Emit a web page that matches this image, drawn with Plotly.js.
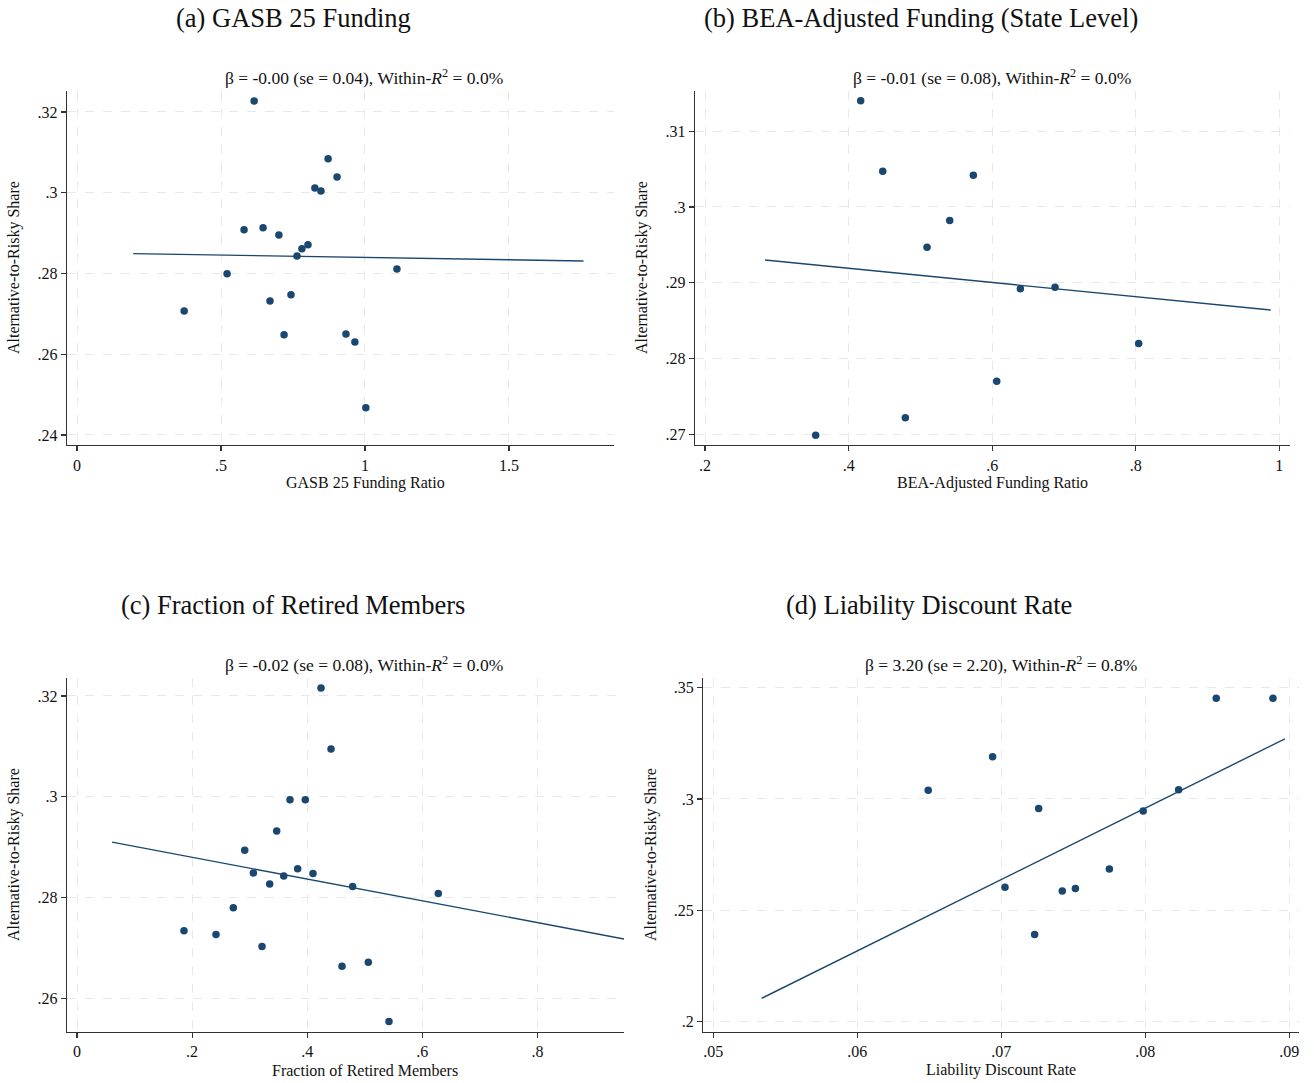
<!DOCTYPE html>
<html>
<head>
<meta charset="utf-8">
<script src="https://cdn.plot.ly/plotly-3.0.1.min.js"></script>
<style>
html,body{margin:0;padding:0;background:#fff;}
#chart{width:1314px;height:1083px;}
</style>
</head>
<body>
<div id="chart"></div>
<script>
// ---------- Data ----------
// Panel (a): GASB 25 Funding Ratio
const aX = [0.372,0.521,0.580,0.615,0.646,0.670,0.701,0.719,0.743,0.764,0.781,0.802,0.826,0.847,0.872,0.903,0.934,0.965,1.003,1.111];
const aY = [0.2707,0.2799,0.2908,0.3227,0.2913,0.2732,0.2895,0.2648,0.2747,0.2843,0.2861,0.2871,0.3012,0.3004,0.3084,0.3039,0.2650,0.2630,0.2467,0.2811];
const aFitX = [0.195,1.759];
const aFitY = [0.2849,0.2831];

// Panel (b): BEA-Adjusted Funding Ratio
const bX = [0.3541,0.4168,0.4475,0.4790,0.5092,0.5408,0.5737,0.6063,0.6392,0.6875,0.8040];
const bY = [0.2699,0.3140,0.3047,0.2722,0.2947,0.2982,0.3042,0.2770,0.2892,0.2894,0.2820];
const bFitX = [0.2836,0.9879];
const bFitY = [0.2930,0.2864];

// Panel (c): Fraction of Retired Members
const cX = [0.1859,0.2415,0.2716,0.2914,0.3064,0.3215,0.3348,0.3470,0.3592,0.3701,0.3834,0.3967,0.4101,0.4240,0.4414,0.4605,0.4790,0.5062,0.5421,0.6278];
const cY = [0.2734,0.2727,0.2780,0.2894,0.2849,0.2703,0.2827,0.2932,0.2843,0.2994,0.2857,0.2994,0.2848,0.3216,0.3095,0.2664,0.2822,0.2672,0.2554,0.2808];
const cFitX = [0.0608,0.9505];
const cFitY = [0.2910,0.2718];

// Panel (d): Liability Discount Rate
const dX = [0.06493,0.06940,0.07026,0.07232,0.07260,0.07424,0.07515,0.07751,0.07986,0.08232,0.08493,0.08887];
const dY = [0.3039,0.3190,0.2604,0.2391,0.2957,0.2587,0.2598,0.2686,0.2946,0.3041,0.3452,0.3452];
const dFitX = [0.05336,0.0897];
const dFitY = [0.2105,0.3270];

// Tick values / labels
const aXTicks = [0,0.5,1,1.5];           const aXLabels = ["0",".5","1","1.5"];
const aYTicks = [0.24,0.26,0.28,0.30,0.32]; const aYLabels = [".24",".26",".28",".3",".32"];
const bXTicks = [0.2,0.4,0.6,0.8,1.0];   const bXLabels = [".2",".4",".6",".8","1"];
const bYTicks = [0.27,0.28,0.29,0.30,0.31]; const bYLabels = [".27",".28",".29",".3",".31"];
const cXTicks = [0,0.2,0.4,0.6,0.8];     const cXLabels = ["0",".2",".4",".6",".8"];
const cYTicks = [0.26,0.28,0.30,0.32];   const cYLabels = [".26",".28",".3",".32"];
const dXTicks = [0.05,0.06,0.07,0.08,0.09]; const dXLabels = [".05",".06",".07",".08",".09"];
const dYTicks = [0.20,0.25,0.30,0.35];   const dYLabels = [".2",".25",".3",".35"];

const panelTitles = ["(a) GASB 25 Funding","(b) BEA-Adjusted Funding (State Level)","(c) Fraction of Retired Members","(d) Liability Discount Rate"];
const statTexts = [
  "β = -0.00 (se = 0.04), Within-<i>R</i><sup>2</sup> = 0.0%",
  "β = -0.01 (se = 0.08), Within-<i>R</i><sup>2</sup> = 0.0%",
  "β = -0.02 (se = 0.08), Within-<i>R</i><sup>2</sup> = 0.0%",
  "β = 3.20 (se = 2.20), Within-<i>R</i><sup>2</sup> = 0.8%"
];
const xTitles = ["GASB 25 Funding Ratio","BEA-Adjusted Funding Ratio","Fraction of Retired Members","Liability Discount Rate"];
const yTitle = "Alternative-to-Risky Share";

// ---------- Layout helpers ----------
const W = 1314, H = 1083;
const px = v => v / W;
const py = v => 1 - v / H;
const navy = '#1a476f';
const FONT = 'Liberation Serif, Times New Roman, serif';

function scatter(x, y, n) {
  const s = n === 1 ? '' : String(n);
  return {x:x, y:y, type:'scatter', mode:'markers', xaxis:'x'+s, yaxis:'y'+s,
    marker:{color:navy, size:7.5, line:{width:0}}, hoverinfo:'skip', showlegend:false};
}
function fit(x, y, n) {
  const s = n === 1 ? '' : String(n);
  return {x:x, y:y, type:'scatter', mode:'lines', xaxis:'x'+s, yaxis:'y'+s,
    line:{color:navy, width:1.4}, hoverinfo:'skip', showlegend:false};
}
function axis(domain, range, tickvals, ticktext, anchor) {
  return {domain:domain, range:range, tickvals:tickvals, ticktext:ticktext, anchor:anchor,
    showline:true, linecolor:'#333', linewidth:1.3, ticks:'outside', ticklen:5, tickcolor:'#333',
    tickwidth:1.2, showgrid:true, gridcolor:'#e8e8e8', gridwidth:1, griddash:'dash',
    zeroline:false, tickfont:{family:FONT, size:16, color:'#111'}, mirror:false, fixedrange:true};
}

const data = [
  fit(aFitX, aFitY, 1), scatter(aX, aY, 1),
  fit(bFitX, bFitY, 2), scatter(bX, bY, 2),
  fit(cFitX, cFitY, 3), scatter(cX, cY, 3),
  fit(dFitX, dFitY, 4), scatter(dX, dY, 4)
];

const layout = {
  width:W, height:H, margin:{l:0,r:0,t:0,b:0}, paper_bgcolor:'#fff', plot_bgcolor:'#fff',
  showlegend:false,
  xaxis:  axis([px(67),  px(614)],   [-0.035, 1.865],   aXTicks, aXLabels, 'y'),
  yaxis:  axis([py(445), py(91)],    [0.2375, 0.3252],  aYTicks, aYLabels, 'x'),
  xaxis2: axis([px(695), px(1290)],  [0.186, 1.0148],   bXTicks, bXLabels, 'y2'),
  yaxis2: axis([py(445), py(91)],    [0.2686, 0.3153],  bYTicks, bYLabels, 'x2'),
  xaxis3: axis([px(67),  px(624)],   [-0.0174, 0.9505], cXTicks, cXLabels, 'y3'),
  yaxis3: axis([py(1031.7), py(678.3)], [0.2534, 0.3235], cYTicks, cYLabels, 'x3'),
  xaxis4: axis([px(703.3), px(1299.3)], [0.04931, 0.0907], dXTicks, dXLabels, 'y4'),
  yaxis4: axis([py(1031.7), py(678.3)], [0.1955, 0.3542], dYTicks, dYLabels, 'x4'),
  annotations: []
};

function ann(text, x, y, size, angle) {
  return {text:text, x:px(x), y:py(y), xref:'paper', yref:'paper', showarrow:false,
    xanchor:'center', yanchor:'middle', textangle:angle||0,
    font:{family:FONT, size:size, color:'#111'}};
}
const titlePos = [[293,18],[921,18],[293,605],[929,605]];
const statPos  = [[364,77],[992,77],[364,664],[1001,664]];
const xtPos    = [[365,483],[992,483],[365,1070],[1001,1070]];
const ytPos    = [[14,268],[642,268],[14,855],[651,855]];
for (let i = 0; i < 4; i++) {
  layout.annotations.push(ann(panelTitles[i], titlePos[i][0], titlePos[i][1], 26.5));
  layout.annotations.push(ann(statTexts[i], statPos[i][0], statPos[i][1], 17.5));
  layout.annotations.push(ann(xTitles[i], xtPos[i][0], xtPos[i][1], 16));
  layout.annotations.push(ann(yTitle, ytPos[i][0], ytPos[i][1], 16, -90));
}

Plotly.newPlot('chart', data, layout, {displayModeBar:false, staticPlot:true});
</script>
</body>
</html>
